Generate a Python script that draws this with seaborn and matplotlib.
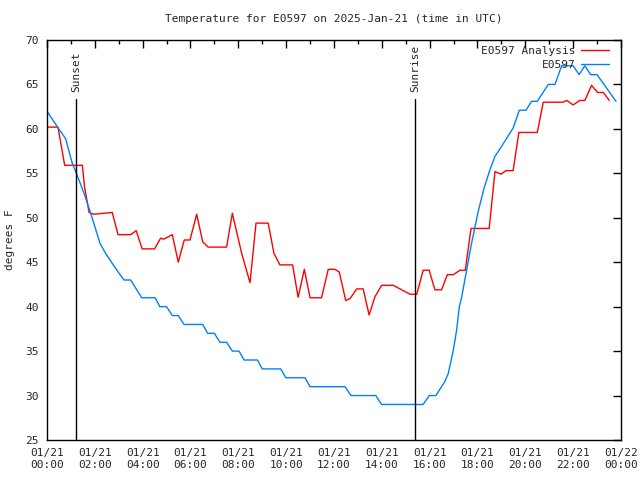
import matplotlib

matplotlib.use("Agg")
import matplotlib.pyplot as plt
import pandas as pd
import seaborn as sns
from matplotlib.ticker import MultipleLocator

# hours since 01/21 00:00 UTC
ANALYSIS_HOURS = [
    0.0, 0.46, 0.74, 1.48, 1.57, 1.76, 1.96, 2.73, 2.97, 3.5, 3.73, 3.98, 4.5,
    4.75, 4.89, 5.24, 5.49, 5.74, 5.98, 6.26, 6.51, 6.74, 7.51, 7.75, 8.14,
    8.49, 8.74, 9.25, 9.49, 9.74, 10.27, 10.5, 10.76, 11.0, 11.48, 11.76,
    12.04, 12.22, 12.49, 12.67, 12.95, 13.22, 13.47, 13.71, 13.99, 14.48,
    14.76, 15.18, 15.46, 15.73, 15.98, 16.22, 16.5, 16.74, 16.99, 17.27,
    17.49, 17.73, 18.49, 18.73, 18.98, 19.19, 19.49, 19.73, 20.5, 20.75,
    21.58, 21.73, 22.0, 22.28, 22.49, 22.77, 23.02, 23.26, 23.51,
]
ANALYSIS_TEMPS = [
    60.2, 60.2, 55.9, 55.9, 53.5, 50.6, 50.4, 50.6, 48.1, 48.1, 48.55, 46.5, 46.5,
    47.7, 47.6, 48.1, 45.0, 47.5, 47.5, 50.4, 47.3, 46.7, 46.7, 50.5, 46.0,
    42.7, 49.4, 49.4, 46.0, 44.7, 44.7, 41.05, 44.2, 41.0, 41.0, 44.2,
    44.2, 43.9, 40.7, 40.9, 42.0, 42.0, 39.06, 41.1, 42.4, 42.4,
    42.0, 41.4, 41.4, 44.1, 44.1, 41.9, 41.9, 43.6, 43.6, 44.1,
    44.1, 48.8, 48.8, 55.2, 54.9, 55.3, 55.3, 59.6, 59.6, 63.0,
    63.0, 63.2, 62.7, 63.2, 63.2, 64.9, 64.1, 64.1, 63.2,
]

OBS_HOURS = [
    0.0, 0.43, 0.78, 1.06, 1.23, 1.55, 1.83, 2.22, 2.45, 2.7, 2.95, 3.22, 3.5,
    3.73, 3.96, 4.52, 4.72, 5.0, 5.24, 5.49, 5.73, 6.51, 6.72, 7.0, 7.23, 7.51,
    7.75, 8.03, 8.24, 8.8, 9.0, 9.77, 9.99, 10.79, 11.0, 12.46, 12.71, 13.75,
    13.99, 15.73, 15.98, 16.26, 16.64, 16.78, 16.99, 17.13, 17.24, 17.34,
    17.47, 17.75, 18.03, 18.27, 18.52, 18.73, 19.0, 19.49, 19.75, 20.03,
    20.26, 20.5, 20.96, 21.24, 21.52, 22.0, 22.25, 22.49, 22.73, 23.0, 23.79,
]
OBS_TEMPS = [
    62, 60.25, 58.9, 56.1, 55, 52.75, 50.5, 47.1, 46, 45, 44, 43, 43,
    42, 41, 41, 40, 40, 39, 39, 38, 38, 37, 37, 36, 36,
    35, 35, 34, 34, 33, 33, 32, 32, 31, 31, 30, 30,
    29, 29, 30, 30, 31.6, 32.5, 35.1, 37.4, 40, 41.1,
    43, 47.1, 50.7, 53.3, 55.4, 56.9, 58, 60.1, 62.1, 62.1,
    63.1, 63.1, 65, 65, 67.1, 67.1, 66.1, 67.1, 66.1, 66.1, 63.1,
]

SUN_EVENTS = ["Sunset", "Sunrise"]
SUN_HOURS = [1.22, 15.38]

TICK_HOURS = list(range(0, 25, 2))
TICK_LABELS = [f"01/21\n{h:02d}:00" for h in range(0, 24, 2)] + ["01/22\n00:00"]

RED = "#ff0000"
BLUE = "#0080ff"

sns.set_style("white")
plt.rcParams["font.family"] = ["DejaVu Sans Mono"]

analysis = pd.DataFrame({"hour": ANALYSIS_HOURS, "temp": ANALYSIS_TEMPS})
obs = pd.DataFrame({"hour": OBS_HOURS, "temp": OBS_TEMPS})

fig = plt.figure(figsize=(6.4, 4.8), dpi=100)
ax = fig.add_axes([0.0734, 0.0833, 0.8969, 0.8334])

sns.lineplot(data=analysis, x="hour", y="temp", ax=ax, color=RED,
             linewidth=1.0, label="E0597 Analysis", estimator=None, sort=False)
sns.lineplot(data=obs, x="hour", y="temp", ax=ax, color=BLUE,
             linewidth=1.0, label="E0597", estimator=None, sort=False)

for name, hour in zip(SUN_EVENTS, SUN_HOURS):
    ax.plot([hour, hour], [25, 63.4], color="black", linewidth=1.0)
    ax.text(hour, 64.1, name, rotation=90, ha="center", va="bottom", fontsize=8)

ax.set_xlim(0, 24)
ax.set_ylim(25, 70)
ax.set_xticks(TICK_HOURS)
ax.set_xticklabels(TICK_LABELS)
ax.xaxis.set_minor_locator(MultipleLocator(1))
ax.yaxis.set_major_locator(MultipleLocator(5))
ax.tick_params(which="both", direction="in", top=True, right=True,
               labelsize=8, color="black", pad=6)
ax.tick_params(which="major", length=6, width=1)
ax.tick_params(which="minor", length=3, width=1)
for spine in ax.spines.values():
    spine.set_color("black")
    spine.set_linewidth(1.0)

ax.set_xlabel("")
ax.set_ylabel("degrees F", fontsize=8, labelpad=7)
ax.set_title("Temperature for E0597 on 2025-Jan-21 (time in UTC)", fontsize=8, pad=13)

ax.legend(loc="upper right", bbox_to_anchor=(0.987, 0.997), frameon=False,
          markerfirst=False, fontsize=8, handlelength=2.5, borderaxespad=0.0,
          labelspacing=0.35, handletextpad=0.5)

fig.savefig("out.png", dpi=100)
